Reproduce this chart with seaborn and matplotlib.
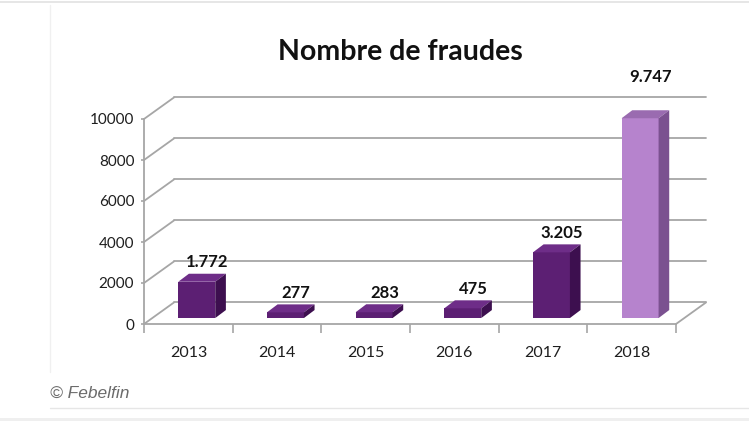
import numpy as np
import matplotlib
matplotlib.use("Agg")
import matplotlib.pyplot as plt
from matplotlib.patches import Polygon
import seaborn as sns

# data
years = ["2013", "2014", "2015", "2016", "2017", "2018"]
values = [1772, 277, 283, 475, 3205, 9747]
value_labels = ["1.772", "277", "283", "475", "3.205", "9.747"]
y_ticks = [0, 2000, 4000, 6000, 8000, 10000]

# colours (front, side, top) per bar
front_colors = ["#5c1f73", "#5c1f73", "#5c1f73", "#5c1f73", "#5c1f73", "#b683cd"]
side_colors = ["#3d0f4f", "#3d0f4f", "#3d0f4f", "#3d0f4f", "#3d0f4f", "#7b5190"]
top_colors = ["#6e2d88", "#6e2d88", "#6e2d88", "#6e2d88", "#6e2d88", "#9a6bb0"]
grid_color = "#a6a6a6"

sns.set_style("white")
plt.rcParams["font.family"] = ["Lato", "DejaVu Sans"]

fig = plt.figure(figsize=(7.49, 4.21), dpi=100)
# axes = front plane of the 3d box
ax = fig.add_axes([144 / 749, 97 / 421, 532 / 749, 205 / 421])

# depth of the box (category units / value units)
box_dx, box_dy = 0.338, 1050
# bar offset into the box and bar depth
bar_sx, bar_sy = 0.095, 290
bar_dx, bar_dy = 0.12, 390

sns.barplot(x=years, y=values, hue=years, palette=front_colors, width=0.417,
            saturation=1, legend=False, ax=ax, zorder=5)

ax.set_xlim(-0.5, 5.5)
ax.set_ylim(0, 10000)

# back wall gridlines + left wall diagonals
for v in y_ticks:
    ax.plot([-0.5 + box_dx, 5.5 + box_dx], [v + box_dy, v + box_dy],
            color=grid_color, lw=1.3, clip_on=False, zorder=1)
    ax.plot([-0.5, -0.5 + box_dx], [v, v + box_dy],
            color=grid_color, lw=1.3, clip_on=False, zorder=1)
# floor right edge
ax.plot([5.5, 5.5 + box_dx], [0, box_dy], color=grid_color, lw=1.3,
        clip_on=False, zorder=1)

# turn bars into boxes
bars = [p for c in ax.containers for p in c]
for i, p in enumerate(bars):
    x0 = p.get_x() + bar_sx
    w = p.get_width()
    h = p.get_height()
    p.set_x(x0)
    p.set_y(bar_sy)
    p.set_edgecolor("none")
    y0 = bar_sy
    top = Polygon([(x0, y0 + h), (x0 + w, y0 + h), (x0 + w + bar_dx, y0 + h + bar_dy),
                   (x0 + bar_dx, y0 + h + bar_dy)], closed=True,
                  facecolor=top_colors[i], edgecolor="none", zorder=6, clip_on=False)
    side = Polygon([(x0 + w, y0), (x0 + w + bar_dx, y0 + bar_dy),
                    (x0 + w + bar_dx, y0 + h + bar_dy), (x0 + w, y0 + h)], closed=True,
                   facecolor=side_colors[i], edgecolor="none", zorder=6, clip_on=False)
    ax.add_patch(top)
    ax.add_patch(side)
    p.set_clip_on(False)
    off = 30 if values[i] == max(values) else 14
    ax.annotate(value_labels[i], (x0 + w / 2 + bar_dx, y0 + h),
                xytext=(0, off), textcoords="offset points", ha="center", va="center",
                fontsize=12, fontweight="bold", color="#111111", zorder=7,
                annotation_clip=False)

# axes styling
for s in ["top", "right"]:
    ax.spines[s].set_visible(False)
for s in ["left", "bottom"]:
    ax.spines[s].set_color(grid_color)
    ax.spines[s].set_linewidth(1.3)
    ax.spines[s].set_zorder(2)

ax.set_yticks(y_ticks)
ax.set_yticklabels([str(v) for v in y_ticks])
ax.set_xticks(range(len(years)))
ax.set_xticklabels(years)
ax.set_xticks(np.arange(-0.5, 6, 1), minor=True)
ax.tick_params(axis="y", which="major", direction="out", length=2.5, width=1.2,
               color=grid_color, pad=4.5, labelsize=11, labelcolor="#1e1e1e", left=True)
ax.tick_params(axis="x", which="major", length=0, pad=16, labelsize=11.5,
               labelcolor="#1e1e1e")
ax.tick_params(axis="x", which="minor", direction="out", length=6.5, width=1.2,
               color=grid_color, bottom=True)
ax.set_xlabel("")
ax.set_ylabel("")
ax.patch.set_alpha(0)

fig.text(400 / 749, 1 - 52 / 421, "Nombre de fraudes", ha="center", va="center",
         fontsize=20.5, fontweight="bold", color="#111111")
fig.text(50 / 749, 1 - 393 / 421, "© Febelfin", ha="left", va="center",
         fontsize=12.5, style="italic", color="#6b6b6b", family="Liberation Sans")

# page decoration
fig.add_artist(plt.Line2D([0, 1], [1 - 1.5 / 421, 1 - 1.5 / 421], color="#e2e2e2", lw=1.2))
fig.add_artist(plt.Line2D([50 / 749, 50 / 749], [1 - 5 / 421, 1 - 372 / 421], color="#f0f0f0", lw=1))
fig.add_artist(plt.Line2D([50 / 749, 1], [1 - 408 / 421, 1 - 408 / 421], color="#e6e6e6", lw=1))
fig.add_artist(plt.Rectangle((0, 0), 1, 3 / 421, color="#efefef", lw=0))

fig.savefig("out.png", dpi=100)
